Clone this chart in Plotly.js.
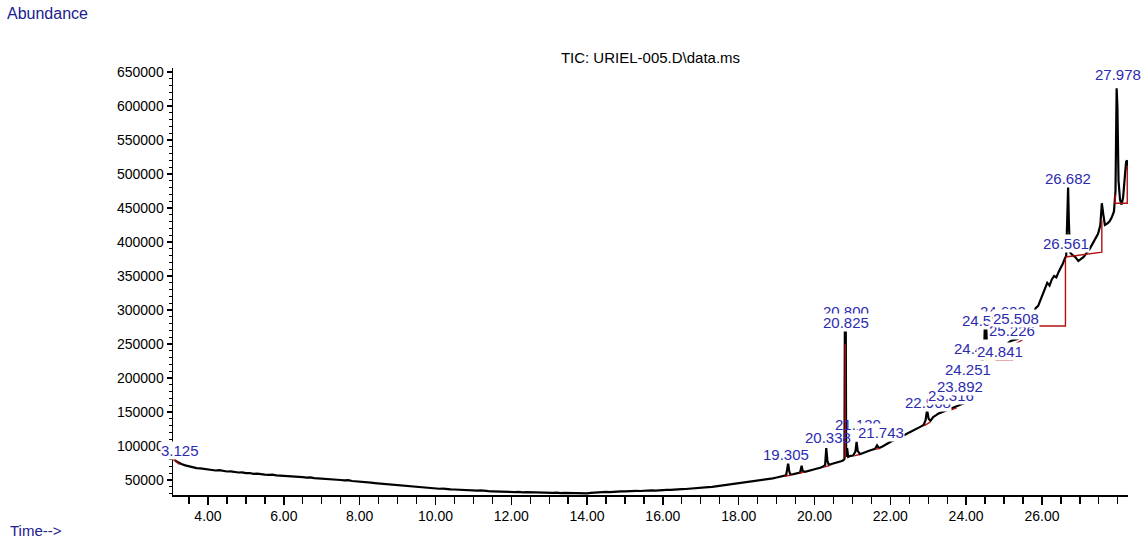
<!DOCTYPE html>
<html>
<head>
<meta charset="utf-8">
<script src="https://cdn.plot.ly/plotly-3.0.1.min.js"></script>
<style>
  html, body { margin: 0; padding: 0; background: #ffffff; }
  #chart { width: 1148px; height: 539px; }
</style>
</head>
<body>
<div id="chart"></div>
<script>
// Retention time (min) of the TIC trace
const retention = [
  3.08, 3.12, 3.16, 3.2, 3.3, 3.4, 3.5, 3.6, 3.7, 3.8, 3.9,
  4.0, 4.1, 4.2, 4.3, 4.4, 4.5, 4.6, 4.7, 4.8, 4.9,
  5.0, 5.1, 5.2, 5.3, 5.4, 5.5, 5.6, 5.7, 5.8, 5.9,
  6.0, 6.1, 6.2, 6.3, 6.4, 6.5, 6.6, 6.7, 6.8, 6.9,
  7.0, 7.1, 7.2, 7.3, 7.4, 7.5, 7.6, 7.7, 7.8, 7.9,
  8.0, 8.1, 8.2, 8.3, 8.4, 8.5, 8.6, 8.7, 8.8, 8.9,
  9.0, 9.1, 9.2, 9.3, 9.4, 9.5, 9.6, 9.7, 9.8, 9.9,
  10.0, 10.1, 10.2, 10.3, 10.4, 10.5, 10.6, 10.7, 10.8, 10.9,
  11.0, 11.1, 11.2, 11.3, 11.4, 11.5, 11.6, 11.7, 11.8, 11.9,
  12.0, 12.1, 12.2, 12.3, 12.4, 12.5, 12.6, 12.7, 12.8, 12.9,
  13.0, 13.1, 13.2, 13.3, 13.4, 13.5, 13.6, 13.7, 13.8, 13.9,
  14.0, 14.1, 14.2, 14.3, 14.4, 14.5, 14.6, 14.7, 14.8, 14.9,
  15.0, 15.1, 15.2, 15.3, 15.4, 15.5, 15.6, 15.7, 15.8, 15.9,
  16.0, 16.1, 16.2, 16.3, 16.4, 16.5, 16.6, 16.7, 16.8, 16.9,
  17.0, 17.1, 17.2, 17.3, 17.4, 17.5, 17.6, 17.7, 17.8, 17.9,
  18.0, 18.1, 18.2, 18.3, 18.4, 18.5, 18.6, 18.7, 18.8, 18.9,
  19.0, 19.1, 19.2, 19.25, 19.28, 19.305, 19.33, 19.36, 19.45, 19.55,
  19.62, 19.66, 19.69, 19.75, 19.85, 19.95, 20.05, 20.15, 20.22, 20.28,
  20.31, 20.34, 20.38, 20.45, 20.55, 20.62, 20.70, 20.76, 20.79, 20.80,
  20.825, 20.835, 20.86, 20.89, 20.95, 21.02, 21.08, 21.11, 21.14, 21.2,
  21.28, 21.36, 21.44, 21.52, 21.6, 21.65, 21.7, 21.78, 21.86, 21.94,
  22.02, 22.1, 22.2, 22.3, 22.4, 22.5, 22.6, 22.7, 22.8, 22.88,
  22.93, 22.97, 23.01, 23.06, 23.13, 23.2, 23.28, 23.36, 23.45, 23.55,
  23.65, 23.75, 23.85, 23.95, 24.02, 24.1, 24.18, 24.26, 24.34, 24.42,
  24.47, 24.5, 24.53, 24.56, 24.64, 24.72, 24.8, 24.88, 24.96, 25.04,
  25.12, 25.2, 25.28, 25.36, 25.44, 25.52, 25.6, 25.68, 25.76, 25.84,
  25.9, 25.96, 26.02, 26.08, 26.14, 26.2, 26.26, 26.32, 26.38, 26.44,
  26.5, 26.55, 26.6, 26.64, 26.67, 26.69, 26.71, 26.74, 26.8, 26.88,
  26.96, 27.02, 27.1, 27.18, 27.26, 27.34, 27.42, 27.48, 27.54, 27.58,
  27.62, 27.66, 27.72, 27.78, 27.84, 27.9, 27.94, 27.97, 27.99, 28.02,
  28.06, 28.1, 28.14, 28.18, 28.22, 28.25, 28.27
];

// Abundance of the TIC trace
const abundance = [
  81000, 80000, 77500, 76000, 73500, 71500, 70000, 69000, 67500, 67000, 66000,
  65500, 65000, 64000, 64500, 63000, 62500, 62800, 61500, 61000, 61200,
  60000, 60300, 59000, 59400, 58200, 58000, 57600, 57900, 56800, 56500,
  56000, 55600, 55900, 54800, 54600, 54200, 53600, 53900, 52800, 52500,
  52000, 51600, 51800, 50800, 50500, 50000, 49400, 49700, 48500, 48200,
  47500, 47000, 47200, 46000, 45500, 45000, 44400, 44600, 43200, 42800,
  42000, 41600, 41900, 40800, 40500, 40000, 39200, 39500, 38300, 38000,
  37500, 37100, 37400, 36400, 36200, 36000, 35600, 35900, 35000, 35200,
  34800, 34300, 34600, 33800, 33600, 33400, 33000, 33300, 32600, 32800,
  32400, 32100, 32500, 31800, 32200, 31900, 31600, 32000, 31300, 31700,
  31400, 31000, 31500, 30800, 31200, 30900, 30600, 31000, 30200, 29800,
  30400, 31000, 31600, 32400, 32000, 32600, 32300, 33000, 32800, 33400,
  33200, 33800, 33500, 34100, 33800, 34400, 34200, 34800, 34500, 35200,
  35000, 35600, 35400, 36100, 35900, 36500, 36800, 37400, 37200, 38000,
  38400, 38900, 39500, 39800, 40600, 41000, 41800, 42200, 43100, 43600,
  44400, 45200, 46300, 46800, 48000, 48800, 49900, 50600, 51800, 52500,
  53600, 54800, 55500, 57000, 66000, 75000, 64000, 58000, 58600, 59500,
  61000, 71000, 63000, 62000, 63800, 65000, 66500, 68000, 69500, 72000,
  97000, 78000, 72000, 73500, 74800, 76000, 77500, 79000, 81000, 270000,
  270000, 84000, 97000, 84000, 85500, 86000, 92000, 106000, 93000, 88000,
  90000, 91500, 93000, 94500, 96000, 101000, 97000, 99000, 101000, 104000,
  106500, 108500, 111000, 113500, 117000, 120000, 122500, 125500, 128500, 131000,
  138000, 153000, 140000, 137000, 142500, 145000, 148000, 149500, 151500, 154000,
  156000, 158000, 160000, 163000, 168000, 180000, 196000, 212000, 223000, 224500,
  230000, 292000, 276000, 228000, 229500, 231500, 233000, 235000, 240000, 246000,
  252000, 255000, 256000, 257500, 262000, 270000, 279000, 288000, 296000, 303000,
  306000, 315000, 322000, 330000, 340000, 336000, 345000, 350000, 348000, 356000,
  362000, 368000, 375000, 380000, 440000, 481000, 430000, 385000, 381000, 378000,
  372000, 375000, 378000, 384000, 390000, 398000, 406000, 412000, 425000, 457000,
  440000, 425000, 427000, 430000, 436000, 445000, 475000, 626000, 600000, 490000,
  462000, 455000, 465000, 500000, 518000, 520000, 505000
];

// Integration baselines (red), segments separated by null
const baselineTime = [
  3.08, 3.25, null,
  19.22, 19.4, null,
  19.6, 19.72, null,
  20.25, 20.4, null,
  20.81, 20.81, null,
  21.05, 21.18, null,
  21.6, 21.72, null,
  22.9, 23.05, null,
  23.55, 23.75, null,
  24.77, 25.24, null,
  25.24, 25.48, null,
  25.5, 26.62, 26.62, null,
  26.62, 27.58, 27.58, null,
  27.93, 27.93, 28.25, 28.25
];
const baselineAbund = [
  80500, 73000, null,
  55500, 57500, null,
  60000, 61500, null,
  69000, 71500, null,
  82000, 250000, null,
  85500, 87500, null,
  95000, 96500, null,
  130000, 135000, null,
  152000, 156000, null,
  226500, 226500, null,
  248500, 255900, null,
  276500, 276500, 375000, null,
  378000, 385000, 432000, null,
  470000, 457000, 457000, 512000
];

// Peak labels
const peakLabels = ["3.125", "19.305", "20.338", "21.130", "21.743", "20.800", "20.825",
  "22.968", "23.316", "23.892", "24.251", "24.484", "24.841",
  "24.692", "24.532", "25.226", "25.508", "26.561", "26.682", "27.978"];
const labelTime = [3.27, 19.25, 20.36, 21.15, 21.75, 20.83, 20.83,
  23.0, 23.6, 23.84, 24.05, 24.29, 24.9,
  24.98, 24.5, 25.21, 25.32, 26.63, 26.69, 28.01];
const labelAbund = [94100, 86800, 111800, 131500, 120500, 298500, 282000,
  164700, 175000, 188000, 211800, 244000, 239700,
  298500, 285300, 270500, 288200, 398500, 494100, 647000];
const labelOpaque = [true, true, false, false, true, true, true,
  true, true, true, true, true, true,
  true, true, true, true, true, true, true];

const yTicks = [50000, 100000, 150000, 200000, 250000, 300000, 350000, 400000,
  450000, 500000, 550000, 600000, 650000];
const xTicks = [4, 6, 8, 10, 12, 14, 16, 18, 20, 22, 24, 26];
const xTickText = ["4.00", "6.00", "8.00", "10.00", "12.00", "14.00", "16.00",
  "18.00", "20.00", "22.00", "24.00", "26.00"];

const FONT = "Liberation Sans, Arial, sans-serif";
const labelColor = "#2b2bb0";

const traces = [
  {
    x: retention, y: abundance, type: "scatter", mode: "lines",
    line: { color: "#000000", width: 2.2 }, hoverinfo: "skip"
  },
  {
    x: baselineTime, y: baselineAbund, type: "scatter", mode: "lines",
    line: { color: "#b01010", width: 1.4 }, connectgaps: false, hoverinfo: "skip"
  }
];

const annotations = peakLabels.map((t, i) => ({
  x: labelTime[i], y: labelAbund[i], xref: "x", yref: "y",
  text: t, showarrow: false,
  font: { family: FONT, size: 15, color: labelColor },
  bgcolor: labelOpaque[i] ? "#ffffff" : "rgba(0,0,0,0)",
  borderpad: 0, xanchor: "center", yanchor: "middle"
}));

annotations.push({
  x: -0.131, y: 1.1288, xref: "paper", yref: "paper",
  text: "Abundance", showarrow: false,
  font: { family: FONT, size: 16, color: "#202090" },
  xanchor: "center", yanchor: "middle"
});
annotations.push({
  x: -0.1435, y: -0.084, xref: "paper", yref: "paper",
  text: "Time-->", showarrow: false,
  font: { family: FONT, size: 15, color: "#202090" },
  xanchor: "center", yanchor: "middle"
});

const layout = {
  width: 1148, height: 539,
  margin: { l: 173, r: 20, t: 68, b: 44 },
  paper_bgcolor: "#ffffff", plot_bgcolor: "#ffffff",
  showlegend: false,
  title: {
    text: "TIC: URIEL-005.D\\data.ms",
    font: { family: FONT, size: 15, color: "#000000" },
    x: 0.5, xref: "paper", y: 1 - 58 / 539, yref: "container",
    xanchor: "center", yanchor: "middle"
  },
  xaxis: {
    range: [3.077, 28.27],
    showline: true, linecolor: "#000000", linewidth: 1.5,
    showgrid: false, zeroline: false,
    tickmode: "array", tickvals: xTicks, ticktext: xTickText,
    ticks: "outside", ticklen: 8, tickwidth: 1.5, tickcolor: "#000000",
    tickfont: { family: FONT, size: 14, color: "#000000" },
    minor: { tickmode: "linear", tick0: 0, dtick: 0.5, ticks: "outside",
             ticklen: 7, tickwidth: 1.3, tickcolor: "#000000", showgrid: false }
  },
  yaxis: {
    range: [27940, 655900],
    showline: true, linecolor: "#000000", linewidth: 1.5,
    showgrid: false, zeroline: false,
    tickmode: "array", tickvals: yTicks, tickformat: "d",
    ticks: "outside", ticklen: 5, tickwidth: 1.3, tickcolor: "#000000",
    tickfont: { family: FONT, size: 14, color: "#000000" },
    minor: { tickmode: "linear", tick0: 0, dtick: 10000, ticks: "outside",
             ticklen: 3, tickwidth: 1, tickcolor: "#000000", showgrid: false }
  },
  annotations: annotations
};

Plotly.newPlot("chart", traces, layout, { staticPlot: true, displayModeBar: false });
</script>
</body>
</html>
